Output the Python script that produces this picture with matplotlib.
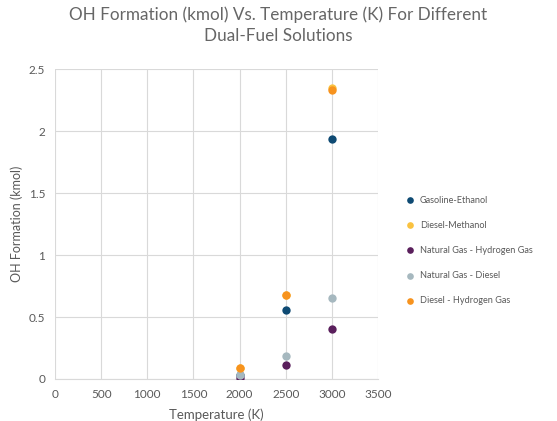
import matplotlib.pyplot as plt

plt.rcParams['font.family'] = ['Lato', 'DejaVu Sans']

temps = [2000, 2500, 3000]
gasoline_ethanol = [0.03, 0.56, 1.935]
diesel_methanol = [0.09, 0.68, 2.35]
ng_hydrogen = [0.01, 0.113, 0.40]
ng_diesel = [0.03, 0.185, 0.653]
diesel_hydrogen = [0.09, 0.677, 2.33]

series = [
    ("Gasoline-Ethanol", gasoline_ethanol, "#0E4A73"),
    ("Diesel-Methanol", diesel_methanol, "#FAC240"),
    ("Natural Gas - Hydrogen Gas", ng_hydrogen, "#5A1F5C"),
    ("Natural Gas - Diesel", ng_diesel, "#A6B8BF"),
    ("Diesel - Hydrogen Gas", diesel_hydrogen, "#F7931E"),
]

fig = plt.figure(figsize=(5.57, 4.21), dpi=100)
ax = fig.add_axes([0.0987, 0.0998, 0.580, 0.736])

for name, vals, color in series:
    ax.scatter(temps, vals, s=36, color=color, label=name, zorder=3, linewidths=0)

ax.set_xlim(0, 3500)
ax.set_ylim(0, 2.5)
ax.set_xticks(range(0, 3501, 500))
ax.set_yticks([0, 0.5, 1, 1.5, 2, 2.5])
ax.set_yticklabels(["0", "0.5", "1", "1.5", "2", "2.5"])
ax.grid(True, color="#D9D9D9", linewidth=0.8)
ax.set_axisbelow(True)
for side in ["top", "right", "left"]:
    ax.spines[side].set_visible(False)
ax.spines["bottom"].set_color("#D9D9D9")
ax.tick_params(length=0, labelsize=8.5, labelcolor="#595959", pad=7)

ax.set_xlabel("Temperature (K)", fontsize=9.5, color="#595959", labelpad=6)
ax.set_ylabel("OH Formation (kmol)", fontsize=9, color="#595959", labelpad=4)

fig.suptitle("OH Formation (kmol) Vs. Temperature (K) For Different\nDual-Fuel Solutions",
             x=0.5, y=0.985, fontsize=12.3, color="#666666", linespacing=1.4)

ax.legend(loc="center left", bbox_to_anchor=(1.06, 0.415), frameon=False,
          fontsize=6.6, labelcolor="#595959", handletextpad=0.05,
          labelspacing=1.75, markerscale=0.8, borderaxespad=0)

fig.savefig("out.png", dpi=100)
